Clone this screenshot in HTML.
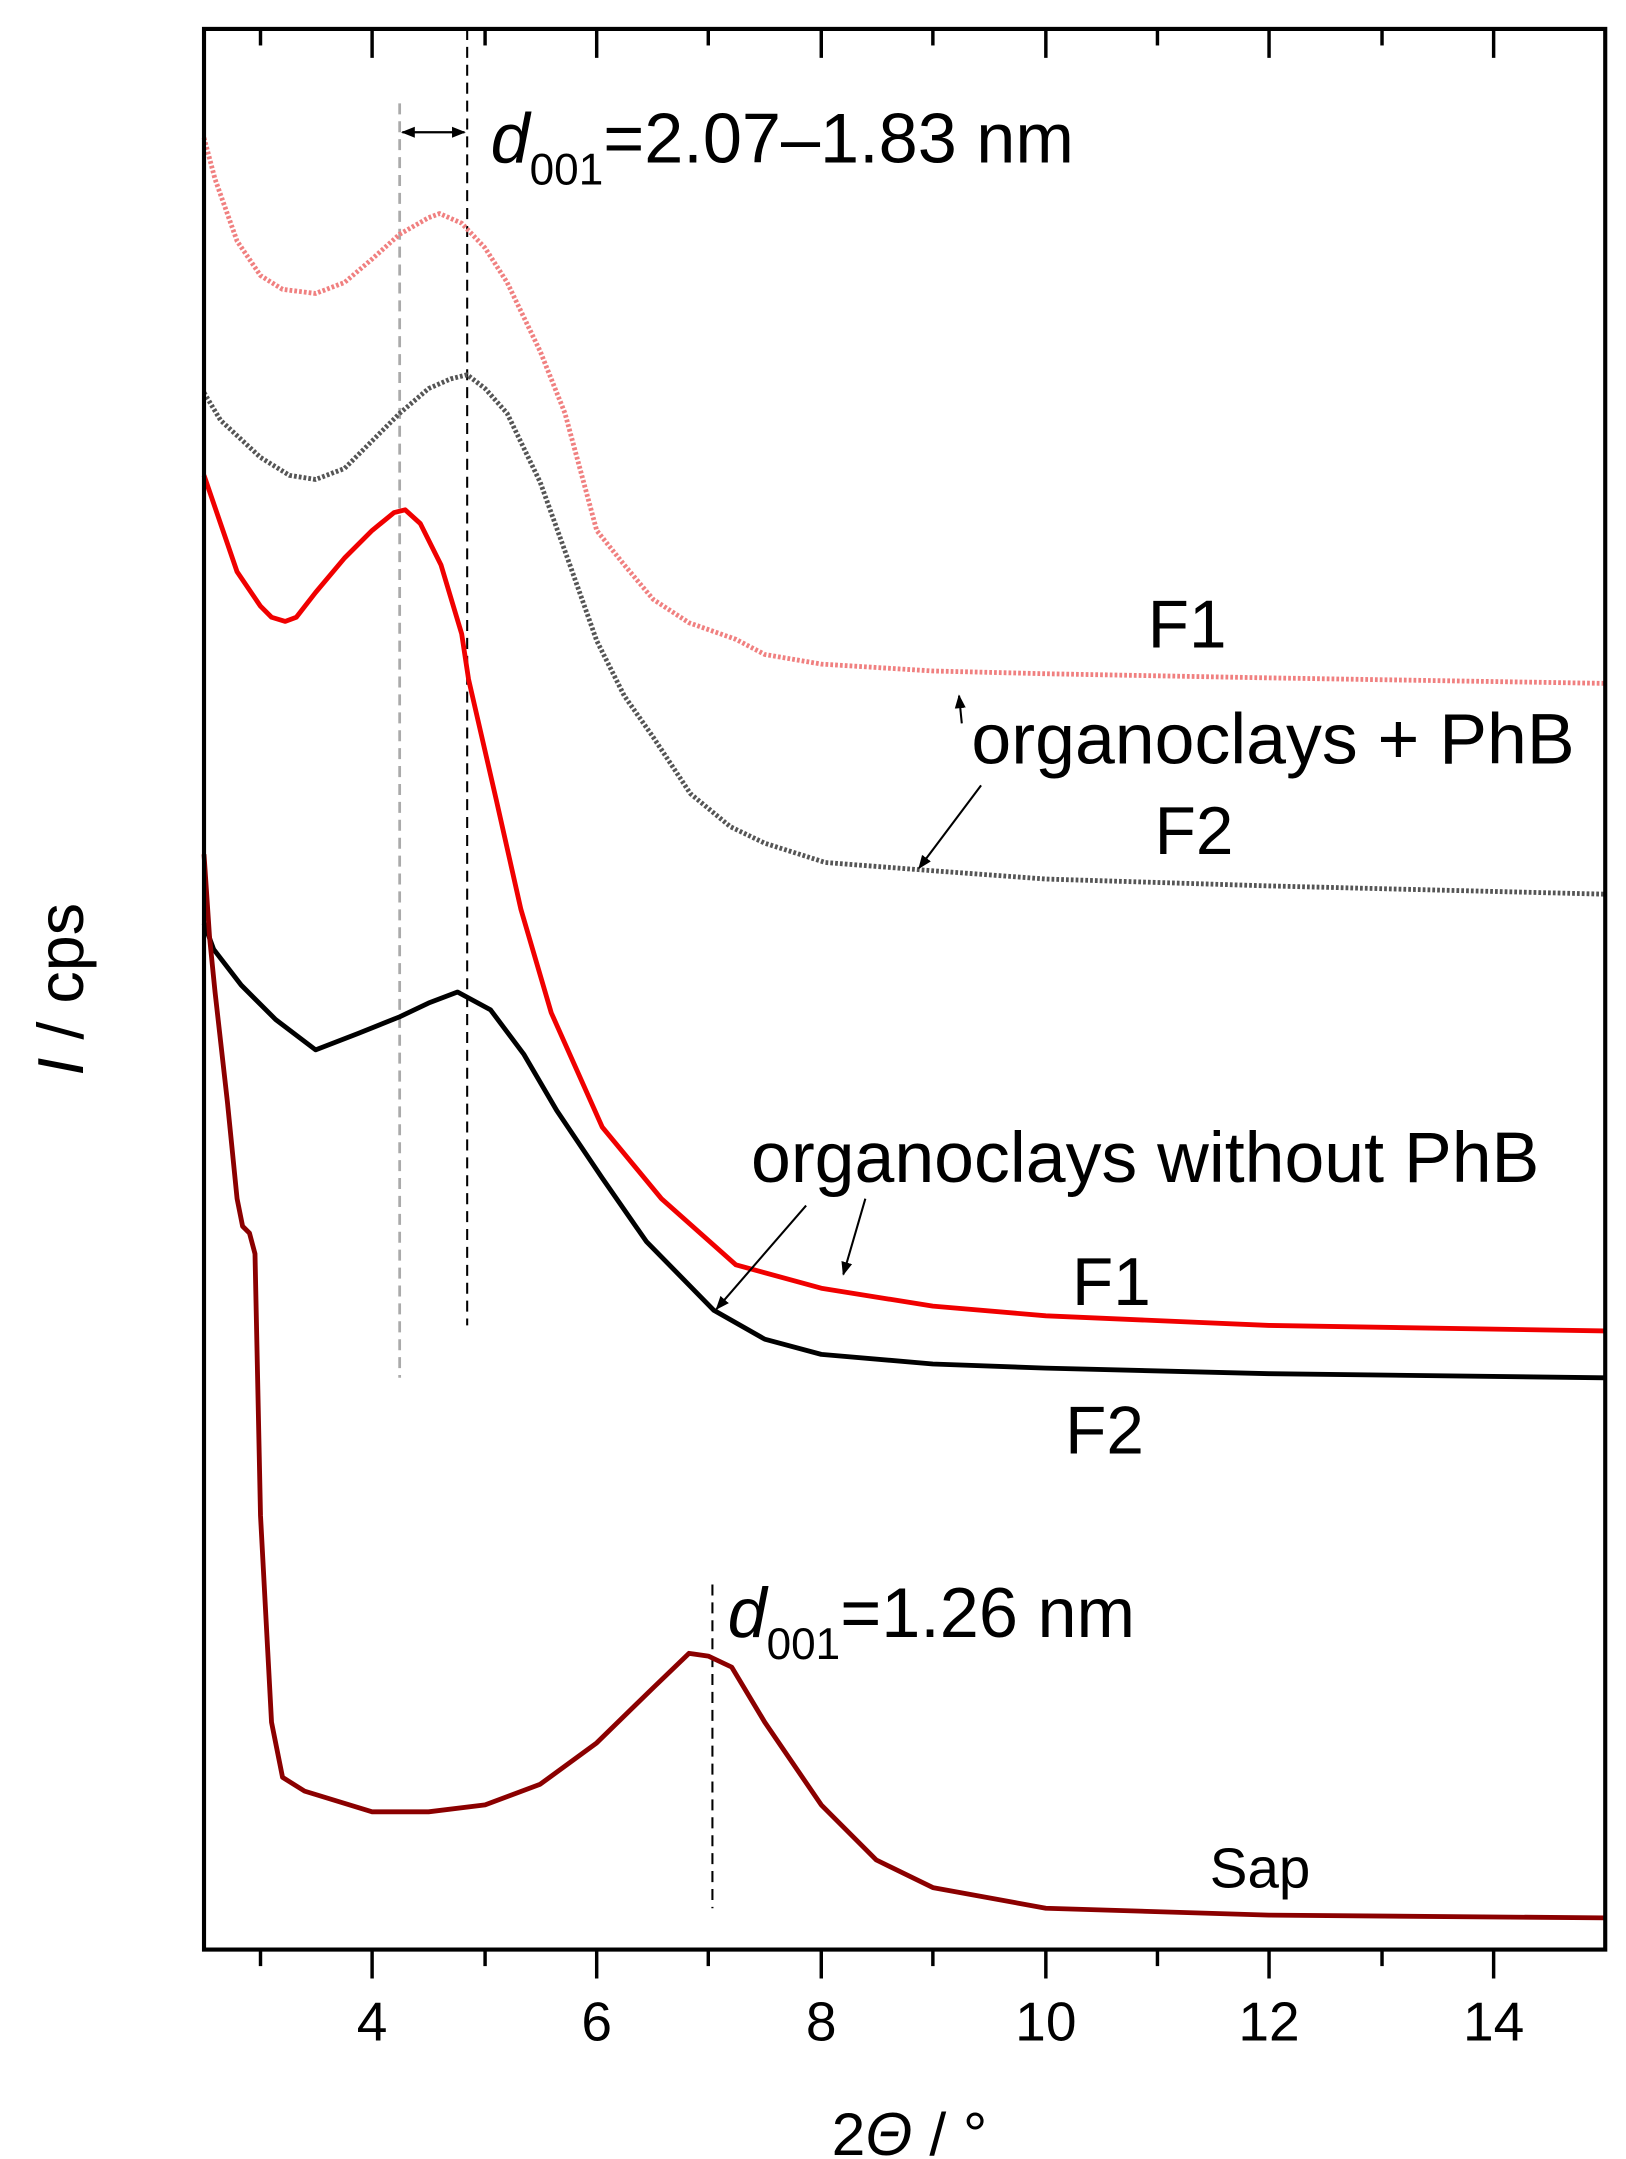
<!DOCTYPE html>
<html><head><meta charset="utf-8"><style>
html,body{margin:0;padding:0;background:#fff;}
svg{display:block;}
text{font-family:"Liberation Sans",Arial,sans-serif;}
</style></head><body>
<svg width="1626" height="2159" viewBox="0 0 1180 1567" xmlns="http://www.w3.org/2000/svg">
<defs>
<marker id="ah" markerWidth="10" markerHeight="10" refX="9" refY="5" orient="auto" markerUnits="userSpaceOnUse"><path d="M0,1 L10,5 L0,9 z" fill="#000"/></marker>
</defs>
<line x1="290" y1="75" x2="290" y2="1000" stroke="#aaa" stroke-width="2" stroke-dasharray="8,5"/>
<line x1="339" y1="21" x2="339" y2="962" stroke="#000" stroke-width="1.5" stroke-dasharray="8,5"/>
<line x1="517" y1="1150" x2="517" y2="1385" stroke="#000" stroke-width="1.5" stroke-dasharray="8,5"/>

<polyline fill="none" stroke="#f08080" stroke-width="3.5" stroke-dasharray="2,1.5" stroke-linejoin="round" points="148,100 156,130 172,175 189,200 205,210 229,213 250,205 270,188 290,170 311,158 319,155 335,162 352,180 368,205 392,255 410,300 433,385 453,410 474,435 500,452 534,464 555,475 596,482 677,487 759,489 921,492 1165,496"/>
<polyline fill="none" stroke="#555" stroke-width="3.5" stroke-dasharray="2,1.5" stroke-linejoin="round" points="148,285 160,305 189,332 210,345 229,348 250,340 270,320 290,300 311,282 327,275 339,272 352,282 368,300 392,350 410,400 433,465 453,505 474,535 501,576 530,600 555,612 599,626 677,632 759,638 921,643 1165,649"/>
<polyline fill="none" stroke="#f00000" stroke-width="3.5" stroke-linejoin="round" points="148,345 160,380 172,415 189,440 197,448 207,451 215,448 229,430 250,405 270,385 286,372 294,370 305,380 320,410 335,460 340,493 360,580 378,660 400,735 437,818 480,870 534,918 596,935 677,948 759,955 921,962 1165,966"/>
<polyline fill="none" stroke="#000" stroke-width="3.5" stroke-linejoin="round" points="148,670 155,689 175,715 200,740 229,762 260,750 290,738 311,728 332,720 356,733 380,765 404,806 437,855 469,901 518,951 555,972 596,983 677,990 759,993 921,997 1165,1000"/>
<polyline fill="none" stroke="#8b0000" stroke-width="3.5" stroke-linejoin="round" points="148,620 152,680 156,720 165,800 172,870 176,890 181,895 185,910 189,1100 197,1250 205,1290 221,1300 270,1315 311,1315 352,1310 392,1295 433,1265 474,1225 500,1200 514,1202 531,1210 555,1250 596,1310 636,1350 677,1370 759,1385 921,1390 1165,1392"/>

<rect x="148" y="21" width="1017" height="1394" fill="none" stroke="#000" stroke-width="3"/>
<g stroke="#000" stroke-width="2.5">
<line x1="189" y1="1415" x2="189" y2="1427"/>
<line x1="270" y1="1415" x2="270" y2="1436"/>
<line x1="352" y1="1415" x2="352" y2="1427"/>
<line x1="433" y1="1415" x2="433" y2="1436"/>
<line x1="514" y1="1415" x2="514" y2="1427"/>
<line x1="596" y1="1415" x2="596" y2="1436"/>
<line x1="677" y1="1415" x2="677" y2="1427"/>
<line x1="759" y1="1415" x2="759" y2="1436"/>
<line x1="840" y1="1415" x2="840" y2="1427"/>
<line x1="921" y1="1415" x2="921" y2="1436"/>
<line x1="1003" y1="1415" x2="1003" y2="1427"/>
<line x1="1084" y1="1415" x2="1084" y2="1436"/>
<line x1="189" y1="21" x2="189" y2="33"/>
<line x1="270" y1="21" x2="270" y2="42"/>
<line x1="352" y1="21" x2="352" y2="33"/>
<line x1="433" y1="21" x2="433" y2="42"/>
<line x1="514" y1="21" x2="514" y2="33"/>
<line x1="596" y1="21" x2="596" y2="42"/>
<line x1="677" y1="21" x2="677" y2="33"/>
<line x1="759" y1="21" x2="759" y2="42"/>
<line x1="840" y1="21" x2="840" y2="33"/>
<line x1="921" y1="21" x2="921" y2="42"/>
<line x1="1003" y1="21" x2="1003" y2="33"/>
<line x1="1084" y1="21" x2="1084" y2="42"/>
</g>
<g font-size="40" text-anchor="middle" fill="#000">
<text x="270" y="1481">4</text>
<text x="433" y="1481">6</text>
<text x="596" y="1481">8</text>
<text x="759" y="1481">10</text>
<text x="921" y="1481">12</text>
<text x="1084" y="1481">14</text>
</g>
<text x="660" y="1564" font-size="44" text-anchor="middle">2<tspan font-style="italic">Θ</tspan> / °</text>
<text transform="translate(60,718) rotate(-90)" font-size="47" text-anchor="middle"><tspan font-style="italic">I</tspan> / cps</text>

<line x1="292" y1="96" x2="337" y2="96" stroke="#000" stroke-width="1.5" marker-end="url(#ah)"/>
<line x1="337" y1="96" x2="292" y2="96" stroke="#000" stroke-width="1.5" marker-end="url(#ah)"/>
<text x="356" y="118" font-size="51"><tspan font-style="italic">d</tspan><tspan font-size="32" dy="16">001</tspan><tspan dy="-16">=2.07–1.83 nm</tspan></text>
<text x="528" y="1188" font-size="51"><tspan font-style="italic">d</tspan><tspan font-size="32" dy="16">001</tspan><tspan dy="-16">=1.26 nm</tspan></text>

<g font-size="49" fill="#000">
<text x="833" y="470">F1</text>
<text x="838" y="620">F2</text>
<text x="778" y="947">F1</text>
<text x="773" y="1055">F2</text>
</g>
<g font-size="52" fill="#000">
<text x="705" y="554">organoclays + PhB</text>
<text x="545" y="858">organoclays without PhB</text>
</g>
<text x="878" y="1370" font-size="41">Sap</text>
<g stroke="#000" stroke-width="1.5" fill="none">
<line x1="712" y1="570" x2="667" y2="630" marker-end="url(#ah)"/>
<line x1="698" y1="525" x2="696" y2="505" marker-end="url(#ah)"/>
<line x1="585" y1="875" x2="520" y2="950" marker-end="url(#ah)"/>
<line x1="628" y1="870" x2="612" y2="925" marker-end="url(#ah)"/>
</g>
</svg>
</body></html>
